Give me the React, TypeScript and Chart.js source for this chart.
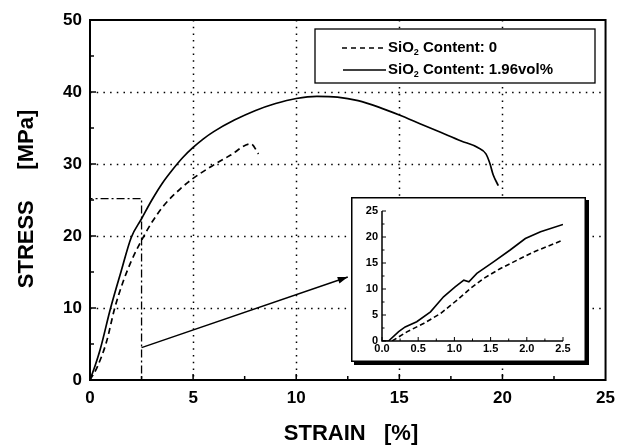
import React, { useEffect, useRef } from 'react';
import { Chart, registerables } from 'chart.js';

Chart.register(...registerables);

const FONT = '"Liberation Sans", Arial, Helvetica, sans-serif';

// ---- main chart data ----
const strainSolid = [0, 0.25, 0.5, 1.0, 1.5, 2.0, 2.5, 3.0, 3.5, 4.0, 4.5, 5.0, 5.5, 6.0, 7.0, 8.0, 9.0, 10.0, 11.0, 12.0, 13.0, 14.0, 15.0, 16.0, 17.0, 18.0, 18.8, 19.2, 19.4, 19.55, 19.8];
const stressSolid = [0, 2.0, 4.3, 10.0, 15.0, 19.8, 22.4, 25.0, 27.3, 29.2, 30.9, 32.3, 33.5, 34.5, 36.1, 37.4, 38.4, 39.1, 39.4, 39.3, 38.8, 37.9, 36.8, 35.6, 34.4, 33.2, 32.3, 31.4, 30.0, 28.5, 27.0];
const strainDashed = [0, 0.35, 0.8, 1.2, 1.6, 2.0, 2.5, 3.0, 3.6, 4.4, 5.0, 5.9, 6.8, 7.8, 8.17];
const stressDashed = [0, 1.8, 5.3, 10.0, 13.6, 16.5, 19.4, 21.9, 24.3, 26.6, 28.0, 29.7, 31.2, 32.8, 31.4];
const boxStrain = [0, 0, 2.5, 2.5];
const boxStress = [0, 25.2, 25.2, 0];
const arrowStrain = [2.5, 12.5];
const arrowStress = [4.5, 14.3];
const xTicks = [0, 5, 10, 15, 20, 25];
const yTicks = [0, 10, 20, 30, 40, 50];
const legendLabels = [' Content: 0', ' Content: 1.96vol%'];
const xTitle = 'STRAIN   [%]';
const yTitle = 'STRESS     [MPa]';

// ---- inset data ----
const insetStrainSolid = [0, 0.09, 0.23, 0.32, 0.48, 0.67, 0.85, 1.01, 1.13, 1.2, 1.31, 1.54, 1.77, 1.98, 2.19, 2.5];
const insetStressSolid = [0, 0, 1.8, 2.7, 3.7, 5.6, 8.5, 10.4, 11.7, 11.4, 13.0, 15.2, 17.5, 19.7, 21.0, 22.4];
const insetStrainDashed = [0.14, 0.35, 0.58, 0.81, 1.04, 1.22, 1.4, 1.63, 1.86, 2.09, 2.5];
const insetStressDashed = [0, 1.8, 3.4, 5.3, 7.9, 10.1, 12.0, 13.9, 15.5, 17.1, 19.4];
const insetXTicks = [0, 0.5, 1.0, 1.5, 2.0, 2.5];
const insetYTicks = [0, 5, 10, 15, 20, 25];

const zip = (xs: number[], ys: number[]) => xs.map((x, i) => ({ x, y: ys[i] }));

function drawSiO2(ctx: CanvasRenderingContext2D, x: number, y: number, rest: string) {
  ctx.font = `bold 15px ${FONT}`;
  ctx.textBaseline = 'middle';
  ctx.textAlign = 'left';
  ctx.fillText('SiO', x, y);
  let cx = x + ctx.measureText('SiO').width;
  ctx.font = `bold 9px ${FONT}`;
  ctx.fillText('2', cx, y + 5);
  cx += ctx.measureText('2').width;
  ctx.font = `bold 15px ${FONT}`;
  ctx.fillText(rest, cx, y);
}

const mainDecor = {
  id: 'mainDecor',
  beforeDatasetsDraw(chart: any) {
    const { ctx, chartArea: a, scales } = chart;
    const x = scales.x, y = scales.y;
    ctx.save();
    ctx.strokeStyle = '#000';
    ctx.lineWidth = 1.5;
    ctx.setLineDash([1.5, 5.2]);
    xTicks.slice(1, -1).forEach((v) => {
      const px = Math.round(x.getPixelForValue(v)) + 0.5;
      ctx.beginPath(); ctx.moveTo(px, a.top); ctx.lineTo(px, a.bottom); ctx.stroke();
    });
    yTicks.slice(1, -1).forEach((v) => {
      const py = Math.round(y.getPixelForValue(v)) + 0.5;
      ctx.beginPath(); ctx.moveTo(a.left, py); ctx.lineTo(a.right, py); ctx.stroke();
    });
    ctx.restore();
  },
  afterDatasetsDraw(chart: any) {
    const { ctx, chartArea: a, scales } = chart;
    const x = scales.x, y = scales.y;
    ctx.save();
    ctx.setLineDash([]);
    ctx.strokeStyle = '#000';
    ctx.fillStyle = '#000';
    // inward ticks
    ctx.lineWidth = 1.5;
    for (let i = 0; i < xTicks.length - 1; i++) {
      const v0 = xTicks[i], v1 = xTicks[i + 1];
      [v0, (v0 + v1) / 2].forEach((v, k) => {
        const px = x.getPixelForValue(v);
        ctx.beginPath(); ctx.moveTo(px, a.bottom); ctx.lineTo(px, a.bottom - (k === 0 ? 6 : 4)); ctx.stroke();
      });
    }
    for (let i = 0; i < yTicks.length - 1; i++) {
      const v0 = yTicks[i], v1 = yTicks[i + 1];
      [v0, (v0 + v1) / 2].forEach((v, k) => {
        const py = y.getPixelForValue(v);
        ctx.beginPath(); ctx.moveTo(a.left, py); ctx.lineTo(a.left + (k === 0 ? 6 : 4), py); ctx.stroke();
      });
    }
    // frame
    ctx.lineWidth = 2;
    ctx.strokeRect(a.left, a.top, a.right - a.left, a.bottom - a.top);
    // arrow head
    const x0 = x.getPixelForValue(arrowStrain[0]), y0 = y.getPixelForValue(arrowStress[0]);
    const x1 = x.getPixelForValue(arrowStrain[1]), y1 = y.getPixelForValue(arrowStress[1]);
    const ang = Math.atan2(y1 - y0, x1 - x0);
    const L = 10, W = 3.5;
    ctx.beginPath();
    ctx.moveTo(x1, y1);
    ctx.lineTo(x1 - L * Math.cos(ang) + W * Math.sin(ang), y1 - L * Math.sin(ang) - W * Math.cos(ang));
    ctx.lineTo(x1 - L * Math.cos(ang) - W * Math.sin(ang), y1 - L * Math.sin(ang) + W * Math.cos(ang));
    ctx.closePath();
    ctx.fill();
    // legend
    const lx = 315, ly = 29, lw = 280, lh = 54;
    ctx.fillStyle = '#fff';
    ctx.fillRect(lx, ly, lw, lh);
    ctx.lineWidth = 1.3;
    ctx.strokeRect(lx, ly, lw, lh);
    ctx.fillStyle = '#000';
    const rows = [ly + 19, ly + 41];
    ctx.lineWidth = 1.6;
    ctx.setLineDash([5, 4]);
    ctx.beginPath(); ctx.moveTo(342, rows[0]); ctx.lineTo(385, rows[0]); ctx.stroke();
    ctx.setLineDash([]);
    ctx.beginPath(); ctx.moveTo(343, rows[1]); ctx.lineTo(386, rows[1]); ctx.stroke();
    drawSiO2(ctx, 388, rows[0], legendLabels[0]);
    drawSiO2(ctx, 388, rows[1], legendLabels[1]);
    // titles
    ctx.font = `bold 22px ${FONT}`;
    ctx.textAlign = 'center';
    ctx.textBaseline = 'middle';
    ctx.fillText(xTitle, 351, 434);
    ctx.save();
    ctx.translate(27, 199);
    ctx.rotate(-Math.PI / 2);
    ctx.fillText(yTitle, 0, 0);
    ctx.restore();
    ctx.restore();
  },
};

const insetDecor = {
  id: 'insetDecor',
  beforeDraw(chart: any) {
    const { ctx } = chart;
    ctx.save();
    ctx.fillStyle = '#000';
    ctx.fillRect(3, 3, 235, 165);
    ctx.fillStyle = '#fff';
    ctx.fillRect(0, 0, 235, 165);
    ctx.strokeStyle = '#000';
    ctx.lineWidth = 1.5;
    ctx.strokeRect(0.75, 0.75, 233.5, 163.5);
    ctx.restore();
  },
  afterDatasetsDraw(chart: any) {
    const { ctx, chartArea: a, scales } = chart;
    const x = scales.x, y = scales.y;
    ctx.save();
    ctx.strokeStyle = '#000';
    ctx.lineWidth = 1.5;
    ctx.beginPath();
    ctx.moveTo(a.left, a.top); ctx.lineTo(a.left, a.bottom); ctx.lineTo(a.right, a.bottom);
    ctx.stroke();
    ctx.lineWidth = 1;
    for (let i = 0; i < insetXTicks.length - 1; i++) {
      const v0 = insetXTicks[i], v1 = insetXTicks[i + 1];
      [v0, (v0 + v1) / 2].forEach((v, k) => {
        const px = x.getPixelForValue(v);
        ctx.beginPath(); ctx.moveTo(px, a.bottom); ctx.lineTo(px, a.bottom - (k === 0 ? 4 : 2.5)); ctx.stroke();
      });
    }
    const lastX = x.getPixelForValue(insetXTicks[insetXTicks.length - 1]);
    ctx.beginPath(); ctx.moveTo(lastX, a.bottom); ctx.lineTo(lastX, a.bottom - 4); ctx.stroke();
    for (let i = 0; i < insetYTicks.length - 1; i++) {
      const v0 = insetYTicks[i], v1 = insetYTicks[i + 1];
      [v0, (v0 + v1) / 2].forEach((v, k) => {
        const py = y.getPixelForValue(v);
        ctx.beginPath(); ctx.moveTo(a.left, py); ctx.lineTo(a.left + (k === 0 ? 4 : 2.5), py); ctx.stroke();
      });
    }
    const lastY = y.getPixelForValue(insetYTicks[insetYTicks.length - 1]);
    ctx.beginPath(); ctx.moveTo(a.left, lastY); ctx.lineTo(a.left + 4, lastY); ctx.stroke();
    ctx.restore();
  },
};

export default function App() {
  const mainRef = useRef<HTMLCanvasElement>(null);
  const insetRef = useRef<HTMLCanvasElement>(null);

  useEffect(() => {
    const tickFont = { family: FONT, size: 17, weight: 'bold' as const };
    const main = new Chart(mainRef.current!, {
      type: 'scatter',
      data: {
        datasets: [
          {
            data: zip(boxStrain, boxStress),
            showLine: true,
            borderColor: '#000',
            borderWidth: 1.3,
            borderDash: [8, 3, 2, 3],
            pointRadius: 0,
            tension: 0,
          },
          {
            data: zip(strainDashed, stressDashed),
            showLine: true,
            borderColor: '#000',
            borderWidth: 1.7,
            borderDash: [6, 4],
            pointRadius: 0,
            cubicInterpolationMode: 'monotone',
          },
          {
            data: zip(strainSolid, stressSolid),
            showLine: true,
            borderColor: '#000',
            borderWidth: 1.7,
            pointRadius: 0,
            cubicInterpolationMode: 'monotone',
          },
          {
            data: zip(arrowStrain, arrowStress),
            showLine: true,
            borderColor: '#000',
            borderWidth: 1.5,
            pointRadius: 0,
            tension: 0,
          },
        ],
      },
      options: {
        responsive: false,
        animation: false,
        layout: { padding: { top: 20, right: 13, left: 0, bottom: 0 } },
        plugins: { legend: { display: false }, tooltip: { enabled: false } },
        scales: {
          x: {
            type: 'linear',
            min: 0,
            max: 25,
            afterBuildTicks: (s: any) => { s.ticks = xTicks.map((v) => ({ value: v })); },
            afterFit: (s: any) => { s.height = 66; },
            grid: { display: false, drawTicks: false },
            border: { display: false },
            ticks: { color: '#000', font: tickFont, padding: 8, maxRotation: 0 },
          },
          y: {
            type: 'linear',
            min: 0,
            max: 50,
            afterBuildTicks: (s: any) => { s.ticks = yTicks.map((v) => ({ value: v })); },
            afterFit: (s: any) => { s.width = 90; },
            grid: { display: false, drawTicks: false },
            border: { display: false },
            ticks: { color: '#000', font: tickFont, padding: 8 },
          },
        },
      },
      plugins: [mainDecor],
    });

    const insetFont = { family: FONT, size: 11, weight: 'bold' as const };
    const inset = new Chart(insetRef.current!, {
      type: 'scatter',
      data: {
        datasets: [
          {
            data: zip(insetStrainDashed, insetStressDashed),
            showLine: true,
            borderColor: '#000',
            borderWidth: 1.6,
            borderDash: [5, 3],
            pointRadius: 0,
            tension: 0,
          },
          {
            data: zip(insetStrainSolid, insetStressSolid),
            showLine: true,
            borderColor: '#000',
            borderWidth: 1.6,
            pointRadius: 0,
            tension: 0,
          },
        ],
      },
      options: {
        responsive: false,
        animation: false,
        layout: { padding: { top: 14, right: 28, left: 0, bottom: 0 } },
        plugins: { legend: { display: false }, tooltip: { enabled: false } },
        scales: {
          x: {
            type: 'linear',
            min: 0,
            max: 2.5,
            afterBuildTicks: (s: any) => { s.ticks = insetXTicks.map((v) => ({ value: v })); },
            afterFit: (s: any) => { s.height = 26; },
            grid: { display: false, drawTicks: false },
            border: { display: false },
            ticks: { color: '#000', font: insetFont, padding: 1, maxRotation: 0, callback: (v: any) => Number(v).toFixed(1) },
          },
          y: {
            type: 'linear',
            min: 0,
            max: 25,
            afterBuildTicks: (s: any) => { s.ticks = insetYTicks.map((v) => ({ value: v })); },
            afterFit: (s: any) => { s.width = 31; },
            grid: { display: false, drawTicks: false },
            border: { display: false },
            ticks: { color: '#000', font: insetFont, padding: 4 },
          },
        },
      },
      plugins: [insetDecor],
    });

    return () => {
      main.destroy();
      inset.destroy();
    };
  }, []);

  return (
    <div style={{ position: 'fixed', left: 0, top: 0, width: 623, height: 446, background: '#fff' }}>
      <canvas ref={mainRef} width={623} height={446} style={{ position: 'absolute', left: 0, top: 0, display: 'block' }} />
      <canvas ref={insetRef} width={240} height={170} style={{ position: 'absolute', left: 351, top: 197, display: 'block' }} />
    </div>
  );
}
